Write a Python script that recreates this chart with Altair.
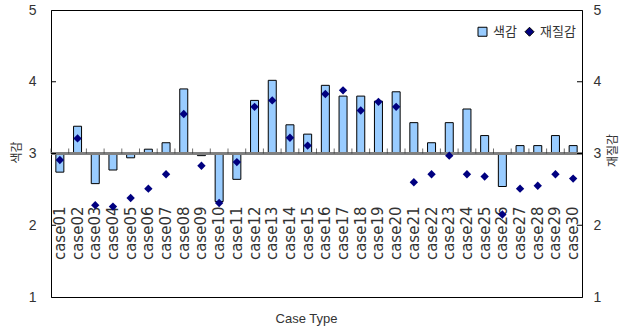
import altair as alt
import pandas as pd

cases = ["case01", "case02", "case03", "case04", "case05", "case06", "case07", "case08", "case09", "case10",
         "case11", "case12", "case13", "case14", "case15", "case16", "case17", "case18", "case19", "case20",
         "case21", "case22", "case23", "case24", "case25", "case26", "case27", "case28", "case29", "case30"]
color_vals = [2.74, 3.38, 2.58, 2.77, 2.94, 3.06, 3.15, 3.90, 2.97, 2.33,
              2.64, 3.74, 4.02, 3.40, 3.27, 3.95, 3.80, 3.80, 3.73, 3.86,
              3.43, 3.15, 3.43, 3.62, 3.25, 2.54, 3.11, 3.11, 3.25, 3.11]
texture_vals = [2.91, 3.21, 2.28, 2.26, 2.38, 2.51, 2.71, 3.55, 2.83, 2.31,
                2.88, 3.65, 3.74, 3.22, 3.11, 3.83, 3.88, 3.60, 3.72, 3.65,
                2.60, 2.71, 2.97, 2.71, 2.68, 2.15, 2.51, 2.55, 2.71, 2.65]
series_names = ["색감", "재질감"]
y_ticks = [1, 2, 3, 4, 5]
inner_ticks = [2, 3, 4]
baseline_value = 3

bars_df = pd.DataFrame({"case": cases, "value": color_vals, "series": series_names[0]})
pts_df = pd.DataFrame({"case": cases, "value": texture_vals, "series": series_names[1]})
ticks_df = pd.DataFrame({"value": inner_ticks})

LATIN = "Liberation Sans, Arial, sans-serif"
KFONT = "Noto Sans CJK KR, sans-serif"
W, H = 531, 287
ydom = [1, 5]
TXT = "#333333"

x_scale = alt.Scale(paddingInner=0, paddingOuter=0)
x_axis = alt.Axis(title="Case Type", labelAngle=270, domain=False, ticks=False, grid=False,
                  offset=-93, labelPadding=2, labelFont="DejaVu Sans", labelFontSize=15,
                  labelColor=TXT, titleFont=LATIN, titleFontSize=13, titleFontWeight="normal",
                  titleColor=TXT, titleX=255, titleY=114, titleBaseline="middle")
x_enc = alt.X("case:N", sort=cases, scale=x_scale, axis=x_axis)

left_axis = alt.Axis(orient="left", values=y_ticks, format="d", ticks=False, grid=False,
                     domainColor="black", labelPadding=15, labelFont=LATIN, labelFontSize=14,
                     labelColor=TXT, title="색감", titleFont=KFONT, titleFontSize=12,
                     titleFontWeight="normal", titleColor=TXT, titleAngle=270, titleX=-35,
                     titleY=142, titleBaseline="middle", titleAlign="center")
right_axis = alt.Axis(orient="right", values=y_ticks, format="d", ticks=False, grid=False,
                      domainColor="black", labelPadding=11, labelFont=LATIN, labelFontSize=14,
                      labelColor=TXT, title="재질감", titleFont=KFONT, titleFontSize=12,
                      titleFontWeight="normal", titleColor=TXT, titleAngle=270, titleX=30,
                      titleY=140, titleBaseline="middle", titleAlign="center")

ysc = alt.Scale(domain=ydom)
color_scale = alt.Scale(domain=series_names, range=["#99CCFF", "#000080"])
shape_scale = alt.Scale(domain=series_names, range=["square", "diamond"])
legend = alt.Legend(title=None, orient="none", legendX=425, legendY=15, direction="horizontal",
                    symbolSize=81, symbolStrokeColor="black", symbolStrokeWidth=1,
                    labelFont=KFONT, labelFontSize=13, labelColor=TXT, labelOffset=4,
                    columnPadding=6, padding=0)

bars = alt.Chart(bars_df).mark_bar(size=8, stroke="black", strokeWidth=1).encode(
    x=x_enc,
    y=alt.Y("value:Q", scale=ysc, axis=left_axis),
    y2=alt.Y2Datum(baseline_value),
    color=alt.Color("series:N", scale=color_scale, legend=legend),
)

base_rule = alt.Chart(bars_df).mark_rule(color="#7f7f7f", strokeWidth=1.5).encode(
    y=alt.YDatum(baseline_value, scale=ysc, axis=left_axis),
    x=alt.value(0), x2=alt.value(W),
)

cat_ticks = alt.Chart(bars_df).mark_tick(orient="vertical", size=5, thickness=1, color="#333333",
                                        yOffset=-2.5).encode(
    x=alt.X("case:N", sort=cases, scale=x_scale, axis=x_axis, bandPosition=0),
    y=alt.YDatum(baseline_value, scale=ysc, axis=left_axis),
)

left_ticks = alt.Chart(ticks_df).mark_rule(color="black").encode(
    y=alt.Y("value:Q", scale=ysc, axis=left_axis),
    x=alt.value(0), x2=alt.value(5),
)
right_ticks = alt.Chart(ticks_df).mark_rule(color="black").encode(
    y=alt.Y("value:Q", scale=ysc, axis=left_axis),
    x=alt.value(W - 5), x2=alt.value(W),
)

inner = alt.layer(bars, base_rule, cat_ticks, left_ticks, right_ticks)

points = alt.Chart(pts_df).mark_point(filled=True, size=70, opacity=1).encode(
    x=x_enc,
    y=alt.Y("value:Q", scale=ysc, axis=right_axis),
    color=alt.Color("series:N", scale=color_scale, legend=legend),
    shape=alt.Shape("series:N", scale=shape_scale, legend=legend),
)

chart = alt.layer(inner, points).resolve_scale(y="independent").properties(
    width=W, height=H,
    autosize=alt.AutoSizeParams(type="none"),
    padding={"left": 51, "top": 10, "right": 39, "bottom": 34},
    background="white",
).configure_view(stroke="black", strokeWidth=1)

chart.save("out.html", embed_options={"renderer": "svg", "actions": False})
